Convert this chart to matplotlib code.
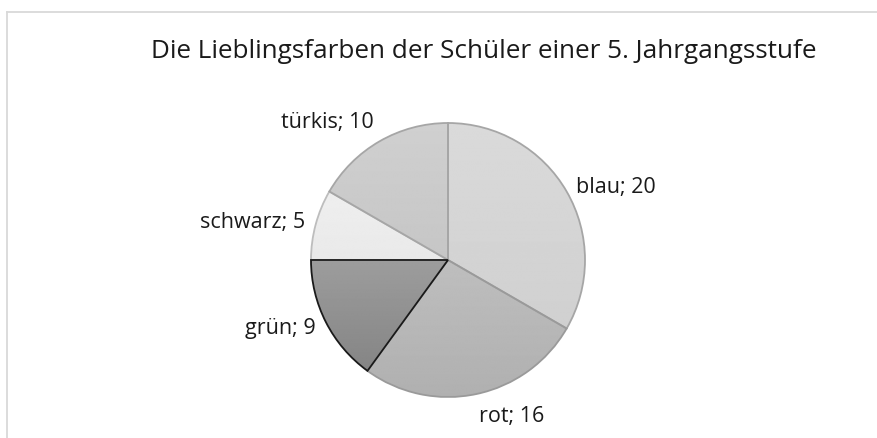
import matplotlib
matplotlib.use("Agg")
import matplotlib.pyplot as plt
import numpy as np

# Lieblingsfarben, Anzahl Schüler
farben = ["blau", "rot", "grün", "schwarz", "türkis"]
anzahl = [20, 16, 9, 5, 10]
# Graustufen je Segment (oben, unten) für den Verlauf
grau_oben = [0.855, 0.745, 0.615, 0.935, 0.815]
grau_unten = [0.815, 0.690, 0.520, 0.915, 0.775]
kanten = ["#a6a6a6", "#9a9a9a", "#1a1a1a", "#bdbdbd", "#a6a6a6"]

plt.rcParams['font.family'] = ['Open Sans', 'DejaVu Sans']

W, H, DPI = 877, 439, 100
fig = plt.figure(figsize=(W / DPI, H / DPI), dpi=DPI)

# Rahmen des Diagrammbereichs
fig.add_artist(plt.Line2D([7 / W, 7 / W], [0, 1 - 12.5 / H], color="#d9d9d9", lw=1.3))
fig.add_artist(plt.Line2D([7 / W, 1], [1 - 12.5 / H, 1 - 12.5 / H], color="#d9d9d9", lw=1.3))

fig.text(484 / W, 1 - 52 / H, "Die Lieblingsfarben der Schüler einer 5. Jahrgangsstufe",
         ha="center", va="center", fontsize=18.8, color="#1a1a1a")

cx, cy, r = 448, 261, 137
ax = fig.add_axes([(cx - r) / W, (H - cy - r) / H, 2 * r / W, 2 * r / H])
ax.set_xlim(-1, 1)
ax.set_ylim(-1, 1)
ax.axis("off")

wedges, _ = ax.pie(anzahl, startangle=90, counterclock=False, radius=1,
                   wedgeprops=dict(linewidth=1.3))

for i, w in enumerate(wedges):
    w.set_edgecolor(kanten[i])
    w.set_facecolor("none")
    w.set_zorder(3 if kanten[i] == "#1a1a1a" else 2)
    # vertikaler Verlauf über die Höhe des Segments
    pts = w.get_path().vertices
    y0, y1 = pts[:, 1].min(), pts[:, 1].max()
    grad = np.linspace(grau_oben[i], grau_unten[i], 256).reshape(-1, 1)
    img = ax.imshow(grad, cmap="gray", vmin=0, vmax=1, extent=[-1, 1, y0, y1],
                    aspect="auto", origin="upper", zorder=1, interpolation="bilinear")
    img.set_clip_path(w)

ax.set_xlim(-1, 1)
ax.set_ylim(-1, 1)

# Beschriftungen außerhalb der Segmente
for i, w in enumerate(wedges):
    mitte = np.deg2rad((w.theta1 + w.theta2) / 2)
    x, y = 1.08 * np.cos(mitte), 1.08 * np.sin(mitte)
    ha = "left" if x > 0.05 else ("right" if x < -0.05 else "center")
    va = "bottom" if y > 0.7 else ("top" if y < -0.7 else "center")
    ax.text(x, y, f"{farben[i]}; {anzahl[i]}", ha=ha, va=va, fontsize=15.5,
            color="#1a1a1a", clip_on=False)

fig.savefig("out.png", dpi=DPI)
